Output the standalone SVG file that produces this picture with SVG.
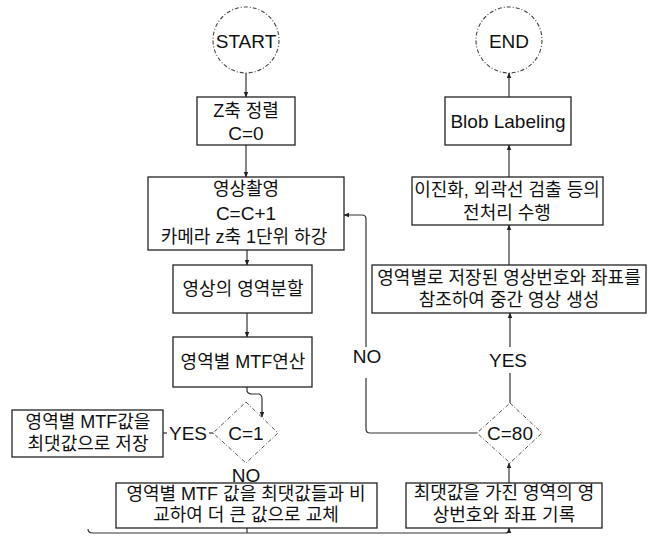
<svg xmlns="http://www.w3.org/2000/svg" width="655" height="538" viewBox="0 0 655 538">
<defs>
<style>
.box{fill:#fff;stroke:#222;stroke-width:1.3}
.term{fill:#fff;stroke:#444;stroke-width:1.1;stroke-dasharray:4 2 1 2}
.dia{fill:#fff;stroke:#555;stroke-width:1;stroke-dasharray:4 2 1 2}
.ln{fill:none;stroke:#333;stroke-width:1.2}
.t{font-family:"Liberation Sans","Noto Sans CJK KR",sans-serif;font-size:18px;fill:#111;text-anchor:middle;dominant-baseline:central}
.l{font-family:"Liberation Sans","Noto Sans CJK KR",sans-serif;font-size:19px;fill:#111;text-anchor:middle;dominant-baseline:central}
</style>
<marker id="ah" viewBox="0 0 10 10" refX="9" refY="5" markerWidth="6" markerHeight="6" orient="auto-start-reverse" markerUnits="userSpaceOnUse">
<path d="M0,1 L10,5 L0,9 Z" fill="#222"/>
</marker>
</defs>
<rect width="655" height="538" fill="#fff"/>

<g id="connectors">
<path class="ln" d="M246,73 L246,97" marker-end="url(#ah)"/>
<path class="ln" d="M246,145 L246,177" marker-end="url(#ah)"/>
<path class="ln" d="M247,250 L247,265" marker-end="url(#ah)"/>
<path class="ln" d="M247,313 L247,337" marker-end="url(#ah)"/>
<path class="ln" d="M247,387 L247,391 Q248,394 252,394 L259,394 Q262,395 262,399 L262,417" marker-end="url(#ah)"/>
<path class="ln" d="M163,433 L167,433"/>
<path class="ln" d="M209,433 L213,433"/>
<path class="ln" d="M247,528 L247,533"/>
<path class="ln" d="M88,529 Q88,533 93,533 L505,533 Q509,533 509,531 L509,528" marker-end="url(#ah)"/>
<path class="ln" d="M509,483 L509,463" marker-end="url(#ah)"/>
<path class="ln" d="M510,403 L510,373"/>
<path class="ln" d="M510,347 L510,313" marker-end="url(#ah)"/>
<path class="ln" d="M509,265 L509,225" marker-end="url(#ah)"/>
<path class="ln" d="M509,177 L509,145" marker-end="url(#ah)"/>
<path class="ln" d="M509,97 L509,73" marker-end="url(#ah)"/>
<path class="ln" d="M477,433 L370,433 Q366,433 366,429 L366,378"/>
<path class="ln" d="M366,347 L366,219 Q366,215 362,215 L344,215" marker-end="url(#ah)"/>
<text class="l" x="188" y="433">YES</text>
<text class="l" x="246" y="475">NO</text>
<text class="l" x="508" y="360">YES</text>
<text class="l" x="367" y="356">NO</text>
</g>

<g id="start">
<circle class="term" cx="246" cy="40" r="33"/>
<text class="l" x="246" y="41">START</text>
</g>

<g id="z-align">
<rect class="box" x="197" y="97" width="98" height="48"/>
<text class="t" x="246" y="111">Z축 정렬</text>
<text class="l" x="246" y="133">C=0</text>
</g>

<g id="capture">
<rect class="box" x="148" y="177" width="196" height="73"/>
<text class="t" x="246" y="189">영상촬영</text>
<text class="l" x="246" y="213">C=C+1</text>
<text class="t" x="244" y="237">카메라 z축 1단위 하강</text>
</g>

<g id="split">
<rect class="box" x="173" y="265" width="139" height="48"/>
<text class="t" x="243" y="289">영상의 영역분할</text>
</g>

<g id="mtf">
<rect class="box" x="173" y="337" width="139" height="50"/>
<text class="t" x="243" y="362">영역별 MTF연산</text>
</g>

<g id="c1">
<polygon class="dia" points="246,402 278,433 246,463 213,433"/>
<text class="l" x="246" y="433">C=1</text>
</g>

<g id="store-max">
<rect class="box" x="12" y="410" width="151" height="47"/>
<text class="t" x="88" y="422">영역별 MTF값을</text>
<text class="t" x="88" y="444">최댓값으로 저장</text>
</g>

<g id="compare">
<rect class="box" x="116" y="483" width="261" height="45"/>
<text class="t" x="246" y="494">영역별 MTF 값을 최댓값들과 비</text>
<text class="t" x="246" y="515">교하여 더 큰 값으로 교체</text>
</g>

<g id="record">
<rect class="box" x="406" y="483" width="196" height="45"/>
<text class="t" x="504" y="493">최댓값을 가진 영역의 영</text>
<text class="t" x="504" y="515">상번호와 좌표 기록</text>
</g>

<g id="c80">
<polygon class="dia" points="510,403 542,433 510,463 477,433"/>
<text class="l" x="510" y="433">C=80</text>
</g>

<g id="middle-image">
<rect class="box" x="372" y="265" width="274" height="48"/>
<text class="t" x="509" y="278">영역별로 저장된 영상번호와 좌표를</text>
<text class="t" x="509" y="300">참조하여 중간 영상 생성</text>
</g>

<g id="preprocess">
<rect class="box" x="412" y="177" width="191" height="48"/>
<text class="t" x="507" y="190">이진화, 외곽선 검출 등의</text>
<text class="t" x="507" y="213">전처리 수행</text>
</g>

<g id="blob">
<rect class="box" x="445" y="97" width="126" height="48"/>
<text class="l" x="508" y="121">Blob Labeling</text>
</g>

<g id="end">
<circle class="term" cx="509" cy="40" r="33"/>
<text class="l" x="509" y="41">END</text>
</g>
</svg>
